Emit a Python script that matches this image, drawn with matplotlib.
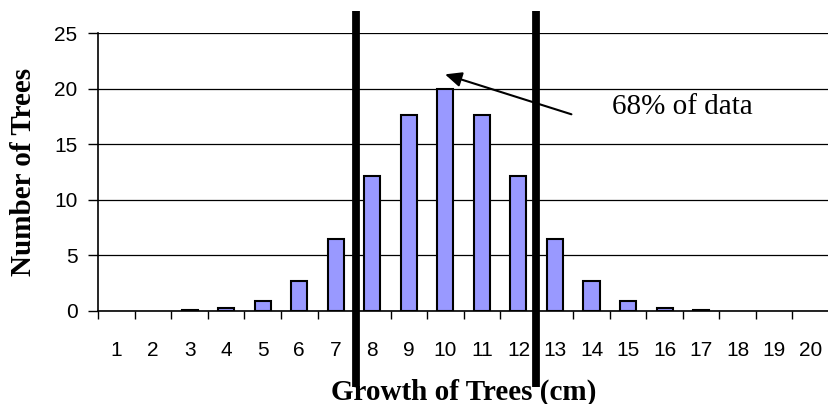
import numpy as np
import matplotlib.pyplot as plt

growth = list(range(1, 21))
trees = [0.0, 0.0, 0.04, 0.22, 0.88, 2.71, 6.49, 12.13, 17.65, 20.0,
         17.65, 12.13, 6.49, 2.71, 0.88, 0.22, 0.04, 0.0, 0.0, 0.0]
bounds = [7.54, 12.48]   # thick markers around the middle 68%
yticks = [0, 5, 10, 15, 20, 25]

fig = plt.figure(figsize=(8.29, 4.04), dpi=100)
ax = fig.add_axes([98.3 / 829, 1 - 310.7 / 404, 1 - 98.3 / 829, (310.7 - 33.3) / 404])

# no outline on empty bars
edge_w = [1.5 if t > 0 else 0 for t in trees]
ax.bar(growth, trees, width=0.44, color='#9999ff', edgecolor='black',
       linewidth=edge_w, zorder=3)

ax.set_xlim(0.5, 20.5)
ax.set_ylim(0, 25)
ax.set_yticks(yticks)
ax.yaxis.grid(True, color='black', linewidth=0.9, zorder=0)

# category labels in the middle, tick marks on the boundaries
ax.set_xticks(growth)
ax.set_xticklabels([str(g) for g in growth], fontsize=15, family='Liberation Sans')
ax.tick_params(axis='x', length=0, pad=22)
ax.set_xticks(np.arange(0.5, 20.5, 1.0), minor=True)
ax.tick_params(axis='x', which='minor', length=6, width=1, direction='out')
ax.tick_params(axis='y', length=7, width=1, direction='out', pad=8, labelsize=15)
for lab in ax.get_yticklabels():
    lab.set_family('Liberation Sans')

for side in ['top', 'right']:
    ax.spines[side].set_visible(False)
ax.spines['left'].set_linewidth(1.2)
ax.spines['bottom'].set_linewidth(1.2)

ax.set_xlabel('Growth of Trees (cm)', family='Liberation Serif', fontweight='bold',
              fontsize=21, labelpad=13)
ax.set_ylabel('Number of Trees', family='Liberation Serif', fontweight='bold',
              fontsize=21, labelpad=12)

# thick vertical lines
for b in bounds:
    ax.plot([b, b], [-6.9, 27.0], color='black', linewidth=5.6,
            clip_on=False, zorder=5, solid_capstyle='butt')

ax.annotate('', xy=(9.99, 21.3), xytext=(13.45, 17.7),
            arrowprops=dict(arrowstyle='-|>,head_length=1.0,head_width=0.45',
                            color='black', lw=1.5, shrinkA=0, shrinkB=0),
            zorder=6, annotation_clip=False)
ax.text(14.56, 18.35, '68% of data', family='Liberation Serif', fontsize=21,
        va='center', ha='left')

fig.savefig('out.png', dpi=100)
